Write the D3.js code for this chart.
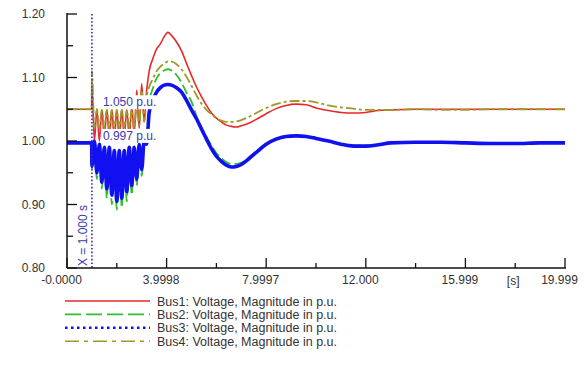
<!DOCTYPE html>
<html>
<head>
<meta charset="utf-8">
<script src="https://cdn.jsdelivr.net/npm/d3@7"></script>
<style>
  body { margin: 0; background: #fff; }
  svg { font-family: "Liberation Sans", Arial, sans-serif; }
</style>
</head>
<body>
<div id="chart"></div>
<script>
// time axis [s]
const time = [0, 0.99, 1.0, 1.1, 1.2, 1.3, 1.4, 1.5, 1.6, 1.7, 1.8, 1.9, 2.0, 2.1, 2.2, 2.3, 2.4, 2.5,
    2.6, 2.7, 2.8, 2.9, 3.0, 3.1, 3.2, 3.3, 3.45, 3.6, 3.75, 3.9, 4.05, 4.2, 4.4, 4.6, 4.8, 5.0, 5.2,
    5.4, 5.6, 5.8, 6.0, 6.2, 6.4, 6.6, 6.8, 7.0, 7.3, 7.6, 8.0, 8.4, 8.8, 9.2, 9.6, 10.0, 10.5, 11.0,
    11.5, 12.0, 12.5, 13.0, 14.0, 15.0, 16.0, 17.0, 18.0, 19.0, 20.0];

const bus1 = [1.05, 1.05, 1.09, 1.00, 1.05, 1.00, 1.05, 1.005, 1.05, 1.005, 1.05, 1.00, 1.05, 1.00, 1.05, 1.005, 1.05, 1.005,
    1.055, 1.01, 1.08, 1.02, 1.09, 1.03, 1.08, 1.11, 1.13, 1.145, 1.153, 1.164, 1.171, 1.166, 1.156, 1.142, 1.122, 1.103, 1.085,
    1.07, 1.056, 1.044, 1.036, 1.03, 1.025, 1.023, 1.022, 1.024, 1.028, 1.034, 1.043, 1.051, 1.056, 1.058, 1.057, 1.052, 1.048, 1.045,
    1.044, 1.045, 1.048, 1.049, 1.05, 1.05, 1.05, 1.05, 1.05, 1.05, 1.05];

const bus2 = [0.997, 0.997, 0.955, 1.00, 0.94, 0.995, 0.925, 0.99, 0.91, 0.99, 0.90, 0.985, 0.892, 0.985, 0.895, 0.985, 0.905, 0.99,
    0.915, 0.99, 0.93, 0.995, 0.945, 1.00, 1.01, 1.06, 1.083, 1.099, 1.107, 1.111, 1.113, 1.111, 1.104, 1.092, 1.076, 1.062, 1.039,
    1.022, 1.007, 0.993, 0.981, 0.973, 0.967, 0.964, 0.964, 0.966, 0.974, 0.984, 0.996, 1.004, 1.008, 1.009, 1.008, 1.005, 1.000, 0.996,
    0.993, 0.993, 0.995, 0.997, 0.998, 0.998, 0.997, 0.997, 0.997, 0.997, 0.997];

const bus3 = [0.997, 0.997, 0.96, 1.00, 0.95, 0.995, 0.935, 0.99, 0.925, 0.99, 0.915, 0.985, 0.905, 0.985, 0.91, 0.985, 0.92, 0.99,
    0.93, 0.99, 0.94, 0.995, 0.955, 1.00, 0.995, 1.045, 1.065, 1.077, 1.084, 1.088, 1.089, 1.088, 1.084, 1.077, 1.064, 1.049, 1.035,
    1.019, 1.003, 0.988, 0.976, 0.968, 0.962, 0.959, 0.960, 0.963, 0.972, 0.982, 0.995, 1.003, 1.007, 1.008, 1.007, 1.004, 1.000, 0.995,
    0.992, 0.992, 0.994, 0.997, 0.998, 0.998, 0.997, 0.996, 0.996, 0.997, 0.997];

const bus4 = [1.05, 1.05, 1.11, 1.02, 1.05, 1.02, 1.05, 1.02, 1.05, 1.02, 1.05, 1.02, 1.05, 1.02, 1.05, 1.02, 1.05, 1.02,
    1.05, 1.02, 1.055, 1.025, 1.08, 1.03, 1.07, 1.085, 1.098, 1.11, 1.117, 1.122, 1.125, 1.125, 1.121, 1.113, 1.101, 1.087, 1.072,
    1.059, 1.049, 1.042, 1.036, 1.032, 1.03, 1.03, 1.031, 1.033, 1.038, 1.044, 1.052, 1.058, 1.062, 1.063, 1.063, 1.061, 1.056, 1.053,
    1.051, 1.049, 1.049, 1.049, 1.05, 1.049, 1.049, 1.05, 1.05, 1.05, 1.05];

const xTickValues = [0, 3.9998, 7.9997, 12.0, 15.999, 19.999];
const xTickLabels = ['-0.0000', '3.9998', '7.9997', '12.000', '15.999', '19.999'];
const yTickValues = [0.8, 0.9, 1.0, 1.1, 1.2];
const yTickLabels = ['0.80', '0.90', '1.00', '1.10', '1.20'];

const seriesNames = ['Bus1: Voltage, Magnitude in p.u.', 'Bus2: Voltage, Magnitude in p.u.',
    'Bus3: Voltage, Magnitude in p.u.', 'Bus4: Voltage, Magnitude in p.u.'];
const markerTime = 1.0;
const markerLabels = ['1.050 p.u.', '0.997 p.u.'];
const markerValues = [1.05, 0.997];

const width = 587;
const height = 365;
const plotLeft = 67, plotRight = 565, plotTop = 14, plotBottom = 268;

const styles = [
    { color: '#e8282a', width: 1.6, dash: null, legendDash: null },
    { color: '#2fbf2f', width: 1.8, dash: '10,4', legendDash: '16,5' },
    { color: '#1010f0', width: 3.6, dash: null, legendDash: '2.5,3.5' },
    { color: '#9e9a25', width: 1.8, dash: '10,3,3,3', legendDash: '14,5,4,5' }
];

const svg = d3.select('#chart')
    .append('svg')
    .attr('width', width)
    .attr('height', height);

const x = d3.scaleLinear().domain([0, 20]).range([plotLeft, plotRight]);
const y = d3.scaleLinear().domain([0.8, 1.2]).range([plotBottom, plotTop]);

svg.append('clipPath').attr('id', 'plot')
    .append('rect')
    .attr('x', plotLeft).attr('y', plotTop - 2)
    .attr('width', plotRight - plotLeft + 2).attr('height', plotBottom - plotTop + 2);

const series = [bus1, bus2, bus3, bus4];

const line = d3.line()
    .x(d => x(d[0]))
    .y(d => y(d[1]))
    .curve(d3.curveMonotoneX);

const plot = svg.append('g').attr('clip-path', 'url(#plot)');

series.forEach((vals, i) => {
    const pts = time.map((t, j) => [t, vals[j]]);
    plot.append('path')
        .datum(pts)
        .attr('fill', 'none')
        .attr('stroke', styles[i].color)
        .attr('stroke-width', styles[i].width)
        .attr('stroke-dasharray', styles[i].dash)
        .attr('stroke-linejoin', 'round')
        .attr('d', line);
});

// vertical marker at t = 1 s
svg.append('line')
    .attr('x1', x(markerTime)).attr('x2', x(markerTime))
    .attr('y1', plotTop).attr('y2', plotBottom)
    .attr('stroke', '#3030c8')
    .attr('stroke-width', 1.6)
    .attr('stroke-dasharray', '1.6,2');

svg.append('text')
    .attr('transform', `translate(${x(markerTime) - 5},${plotBottom - 2}) rotate(-90)`)
    .attr('font-size', '12px')
    .attr('fill', '#3a3aa8')
    .text('X = ' + markerTime.toFixed(3) + ' s');

markerValues.forEach((v, i) => {
    const bx = x(markerTime) + 9;
    const by = y(v) - 14;
    svg.append('rect')
        .attr('x', bx).attr('y', by)
        .attr('width', 56).attr('height', 14)
        .attr('fill', '#fff');
    svg.append('text')
        .attr('x', bx + 2).attr('y', by + 11)
        .attr('font-size', '12px')
        .attr('fill', '#3a3aa8')
        .text(markerLabels[i]);
});

// axes
const xAxis = d3.axisBottom(x)
    .tickValues(xTickValues)
    .tickSize(0)
    .tickFormat((d, i) => xTickLabels[i]);

const gx = svg.append('g')
    .attr('transform', `translate(0,${plotBottom})`)
    .call(xAxis);
gx.select('.domain').remove();
gx.selectAll('text')
    .attr('dx', -6)
    .attr('dy', '1.05em')
    .attr('font-size', '12px')
    .attr('font-family', '"Liberation Sans", Arial, sans-serif')
    .attr('fill', '#333');

const yAxis = d3.axisLeft(y)
    .tickValues(yTickValues)
    .tickSize(0)
    .tickPadding(22)
    .tickFormat((d, i) => yTickLabels[i]);

const gy = svg.append('g')
    .attr('transform', `translate(${plotLeft},0)`)
    .call(yAxis);
gy.select('.domain').remove();
gy.selectAll('text')
    .attr('font-size', '12px')
    .attr('font-family', '"Liberation Sans", Arial, sans-serif')
    .attr('fill', '#333');

// axis lines and inward ticks
svg.append('line')
    .attr('x1', plotLeft).attr('x2', plotLeft)
    .attr('y1', plotTop - 1).attr('y2', plotBottom)
    .attr('stroke', '#111').attr('stroke-width', 1.5);
svg.append('line')
    .attr('x1', plotLeft).attr('x2', plotRight + 1)
    .attr('y1', plotBottom).attr('y2', plotBottom)
    .attr('stroke', '#111').attr('stroke-width', 1.5);

d3.range(0.8, 1.2001, 0.05).forEach((v, i) => {
    svg.append('line')
        .attr('x1', plotLeft).attr('x2', plotLeft + (i % 2 === 0 ? 10 : 6))
        .attr('y1', y(v)).attr('y2', y(v))
        .attr('stroke', '#111').attr('stroke-width', 1.3);
});
d3.range(0, 20.001, 2).forEach((t, i) => {
    svg.append('line')
        .attr('x1', x(t)).attr('x2', x(t))
        .attr('y1', plotBottom).attr('y2', plotBottom - (i % 2 === 0 ? 10 : 5))
        .attr('stroke', '#111').attr('stroke-width', 1.3);
});

svg.append('text')
    .attr('x', x(18) - 2).attr('y', plotBottom + 17)
    .attr('text-anchor', 'middle')
    .attr('font-size', '12px')
    .attr('fill', '#333')
    .text('[s]');

// legend
const legend = svg.append('g').attr('transform', 'translate(65,301)');
seriesNames.forEach((name, i) => {
    const row = legend.append('g').attr('transform', `translate(0,${i * 13.4})`);
    row.append('line')
        .attr('x1', 0).attr('x2', 85)
        .attr('y1', 0).attr('y2', 0)
        .attr('stroke', styles[i].color)
        .attr('stroke-width', i === 2 ? 2.4 : 1.6)
        .attr('stroke-dasharray', styles[i].legendDash);
    row.append('text')
        .attr('x', 92).attr('y', 4.5)
        .attr('font-size', '12.5px')
        .attr('fill', '#333')
        .text(name);
});
</script>
</body>
</html>
